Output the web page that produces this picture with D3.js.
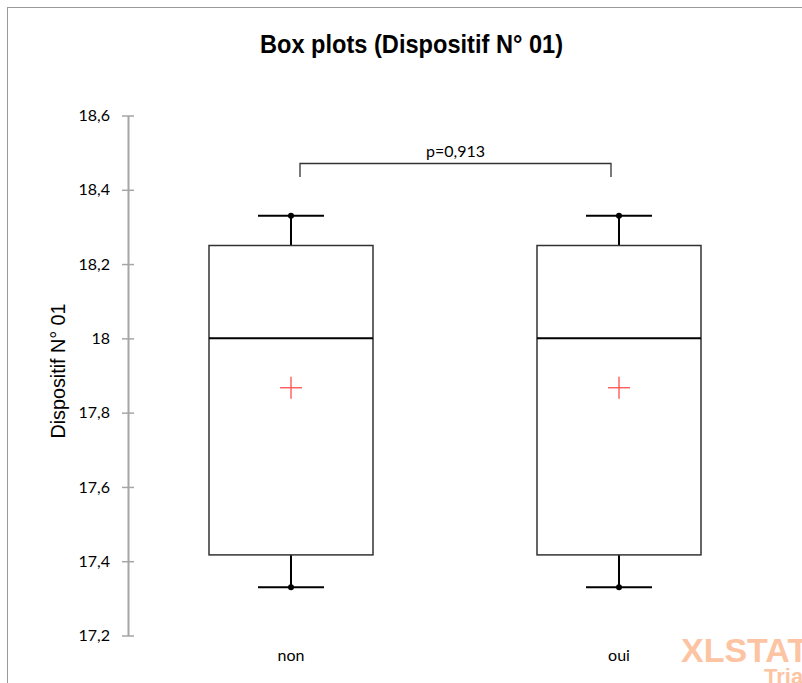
<!DOCTYPE html>
<html><head><meta charset="utf-8">
<script src="https://cdn.jsdelivr.net/npm/d3@7"></script>
<style>body{margin:0;background:#fff}svg{display:block}</style>
</head><body>
<script>
const categories = ["non", "oui"];
const minimum = [17.33, 17.33];
const q1 = [17.417, 17.417];
const median = [18.0, 18.0];
const q3 = [18.25, 18.25];
const maximum = [18.33, 18.33];
const mean = [17.867, 17.867];
const yTicks = [17.2, 17.4, 17.6, 17.8, 18.0, 18.2, 18.4, 18.6];
const pLabel = "p=0,913";

const W = 802, H = 683;
const svg = d3.select("body").append("svg").attr("width", W).attr("height", H);
svg.append("rect").attr("x", 7.5).attr("y", 7.5).attr("width", 820).attr("height", 700)
  .attr("fill", "none").attr("stroke", "#9a9a9a").attr("stroke-width", 1);

const x = d3.scalePoint().domain(categories).range([127, 783]).padding(0.5);
const y = d3.scaleLinear().domain([17.2, 18.6]).range([635.5, 115.5]);
const axisX = 128;

const fmt = v => (Math.round(v * 10) / 10).toString().replace(".", ",");
const yAxis = d3.axisLeft(y).tickValues(yTicks).tickFormat(fmt).tickSize(0).tickPadding(18);
const gA = svg.append("g").attr("transform", `translate(${axisX},0)`).call(yAxis);
gA.select(".domain").attr("stroke", "#a6a6a6").attr("stroke-width", 2);
gA.selectAll(".tick").append("line").attr("x1", -6).attr("x2", 6).attr("stroke", "#a6a6a6").attr("stroke-width", 1.5);
gA.selectAll("text").attr("font-family", "Lato, 'Open Sans', sans-serif").attr("font-size", 16).attr("fill", "#000");

svg.append("text").attr("x", 411.5).attr("y", 53).attr("text-anchor", "middle")
  .attr("font-family", "'Liberation Sans', Arial, sans-serif").attr("font-weight", "bold").attr("font-size", 25)
  .attr("textLength", 303).attr("lengthAdjust", "spacingAndGlyphs")
  .text("Box plots (Dispositif N° 01)");

svg.append("text").attr("transform", "translate(65,371) rotate(-90)").attr("text-anchor", "middle")
  .attr("font-family", "'Liberation Sans', Arial, sans-serif").attr("font-size", 21)
  .attr("textLength", 135).attr("lengthAdjust", "spacingAndGlyphs")
  .text("Dispositif N° 01");

const boxW = 164, capW = 66;
const data = categories.map((c, i) => ({c, mn: minimum[i], q1: q1[i], md: median[i], q3: q3[i], mx: maximum[i], mean: mean[i]}));
const g = svg.selectAll("g.box").data(data).join("g").attr("class", "box");
g.append("line").attr("x1", d => x(d.c)).attr("x2", d => x(d.c)).attr("y1", d => y(d.mx)).attr("y2", d => y(d.q3)).attr("stroke", "#000").attr("stroke-width", 2);
g.append("line").attr("x1", d => x(d.c)).attr("x2", d => x(d.c)).attr("y1", d => y(d.q1)).attr("y2", d => y(d.mn)).attr("stroke", "#000").attr("stroke-width", 2);
g.append("rect").attr("x", d => x(d.c) - boxW / 2).attr("width", boxW).attr("y", d => y(d.q3)).attr("height", d => y(d.q1) - y(d.q3))
  .attr("fill", "none").attr("stroke", "#333").attr("stroke-width", 1.5);
g.append("line").attr("x1", d => x(d.c) - boxW / 2).attr("x2", d => x(d.c) + boxW / 2).attr("y1", d => y(d.md)).attr("y2", d => y(d.md)).attr("stroke", "#000").attr("stroke-width", 2);
["mx", "mn"].forEach(k => {
  g.append("line").attr("x1", d => x(d.c) - capW / 2).attr("x2", d => x(d.c) + capW / 2).attr("y1", d => y(d[k])).attr("y2", d => y(d[k])).attr("stroke", "#000").attr("stroke-width", 2);
  g.append("circle").attr("cx", d => x(d.c)).attr("cy", d => y(d[k])).attr("r", 3).attr("fill", "#000");
});
g.append("line").attr("x1", d => x(d.c) - 11).attr("x2", d => x(d.c) + 11).attr("y1", d => y(d.mean)).attr("y2", d => y(d.mean)).attr("stroke", "#ff4d4d").attr("stroke-width", 1.3);
g.append("line").attr("x1", d => x(d.c)).attr("x2", d => x(d.c)).attr("y1", d => y(d.mean) - 11).attr("y2", d => y(d.mean) + 11).attr("stroke", "#ff4d4d").attr("stroke-width", 1.3);
g.append("text").attr("x", d => x(d.c)).attr("y", 661).attr("text-anchor", "middle")
  .attr("font-family", "Lato, 'Open Sans', sans-serif").attr("font-size", 16).text(d => d.c);

// p-value bracket
const bx1 = x(categories[0]) + 9, bx2 = x(categories[1]) - 8, by = 163.5;
svg.append("path").attr("d", `M${bx1},177V${by}H${bx2}V177`).attr("fill", "none").attr("stroke", "#333").attr("stroke-width", 1.3);
svg.append("text").attr("x", (bx1 + bx2) / 2).attr("y", 157).attr("text-anchor", "middle")
  .attr("font-family", "Lato, 'Open Sans', sans-serif").attr("font-size", 16).text(pLabel);

// watermark
svg.append("text").attr("x", 681).attr("y", 662).attr("font-family", "'Liberation Sans', Arial, sans-serif").attr("font-weight", "bold")
  .attr("font-size", 34).attr("fill", "#fcc4a2").text("XLSTAT");
svg.append("text").attr("x", 764).attr("y", 684).attr("font-family", "'Liberation Sans', Arial, sans-serif").attr("font-weight", "bold")
  .attr("font-size", 22).attr("fill", "#fcc4a2").text("Tria");
</script>
</body></html>
